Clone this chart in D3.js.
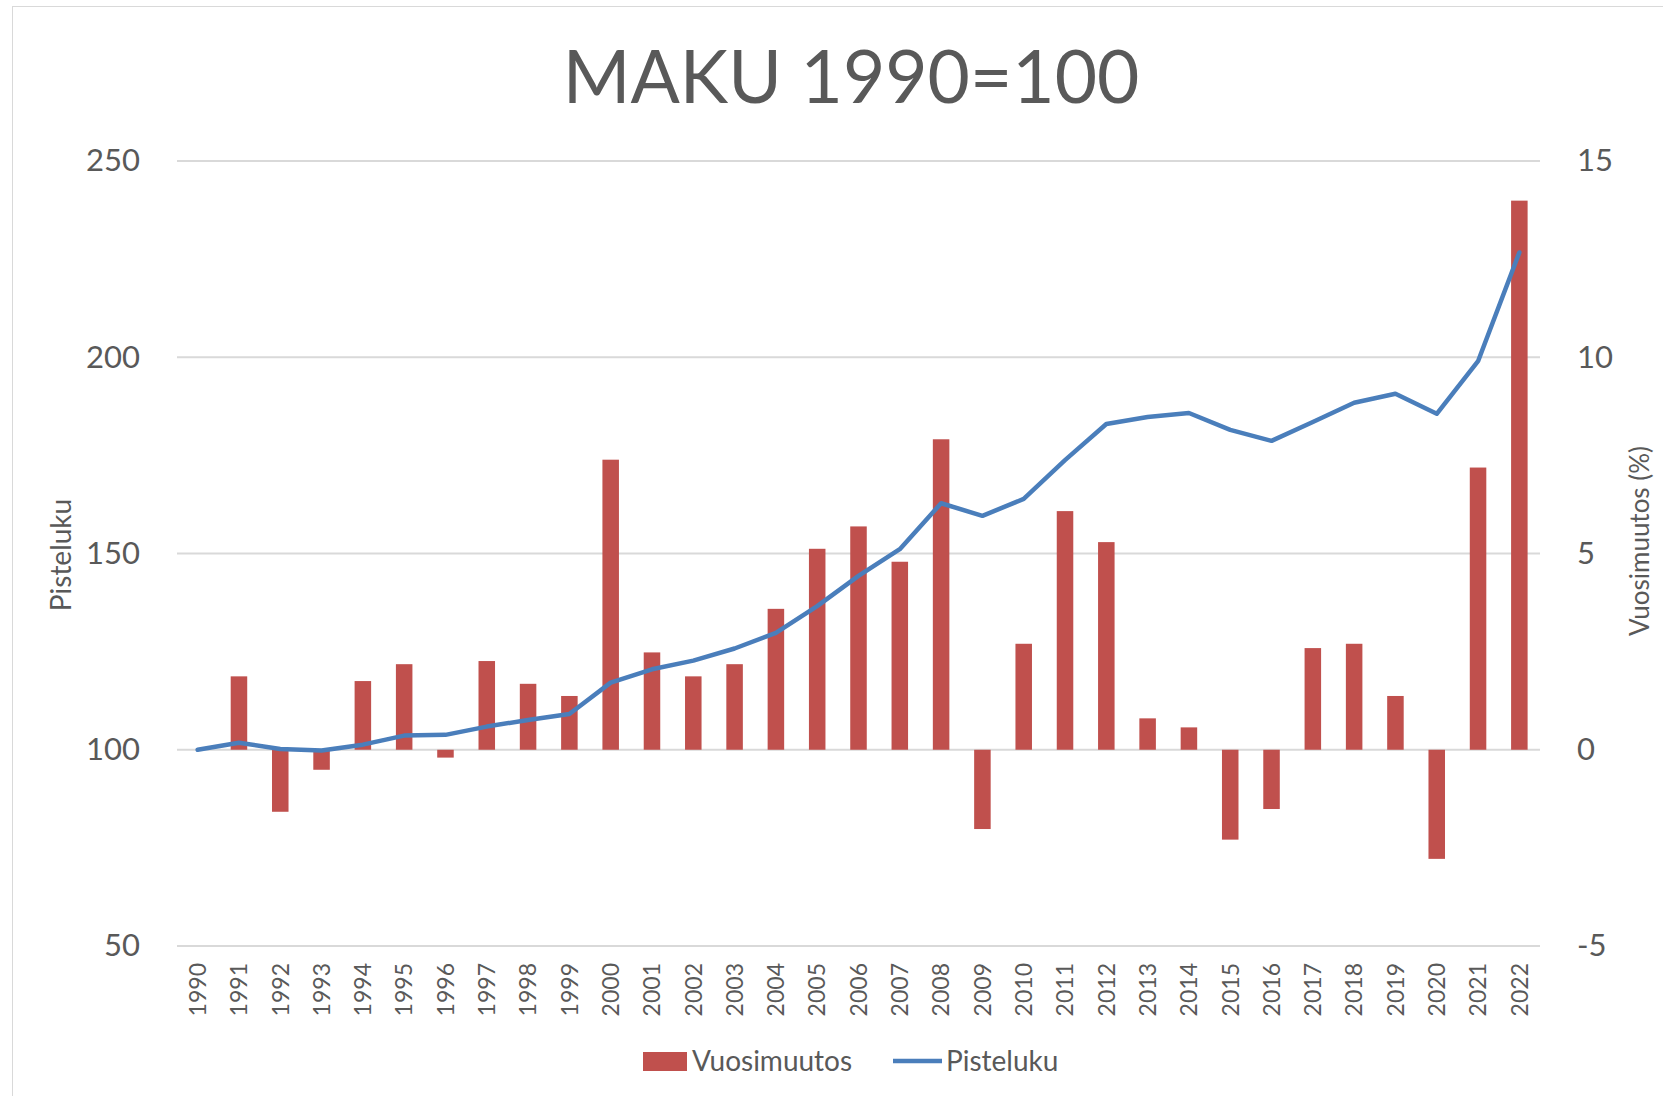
<!DOCTYPE html>
<html>
<head>
<meta charset="utf-8">
<script src="https://cdnjs.cloudflare.com/ajax/libs/d3/7.8.5/d3.min.js"></script>
<style>
    body { margin: 0; background: #fff; }
    text { font-family: Lato, "Open Sans", sans-serif; fill: #595959; }
</style>
</head>
<body>
<svg id="chart" width="1663" height="1096"></svg>
<script>
let years = [1990, 1991, 1992, 1993, 1994, 1995, 1996, 1997, 1998, 1999,
    2000, 2001, 2002, 2003, 2004, 2005, 2006, 2007, 2008, 2009,
    2010, 2011, 2012, 2013, 2014, 2015, 2016, 2017, 2018, 2019,
    2020, 2021, 2022];

// Vuosimuutos (%), right axis
let vuosimuutos = [0, 1.87, -1.58, -0.51, 1.75, 2.18, -0.2, 2.26, 1.68, 1.37,
    7.39, 2.48, 1.87, 2.18, 3.59, 5.12, 5.69, 4.79, 7.91, -2.02,
    2.70, 6.08, 5.29, 0.80, 0.57, -2.29, -1.51, 2.59, 2.70, 1.37,
    -2.78, 7.19, 13.99];

// Pisteluku (1990=100), left axis
let pisteluku = [100, 101.8, 100.2, 99.8, 101.3, 103.6, 103.8, 105.9, 107.6, 109.1,
    117.1, 120.5, 122.7, 125.8, 129.8, 136.6, 144.3, 151.1, 162.8, 159.6,
    163.9, 173.8, 183.0, 184.8, 185.8, 181.5, 178.7, 183.5, 188.4, 190.7,
    185.6, 199.0, 226.7];

let leftTicks = [50, 100, 150, 200, 250];
let rightTicks = [-5, 0, 5, 10, 15];

let svg = d3.select("#chart");
let plotLeft = 177, plotRight = 1540, plotTop = 161, plotBottom = 946;

// chart frame
svg.append("rect")
    .attr("x", 12.5).attr("y", 6.5)
    .attr("width", 1700).attr("height", 1200)
    .attr("fill", "#fff")
    .attr("stroke", "#d9d9d9");

let x = d3.scaleBand()
    .domain(years)
    .range([plotLeft, plotRight])
    .paddingInner(0.6)
    .paddingOuter(0.3);

let yLeft = d3.scaleLinear().domain([50, 250]).range([plotBottom, plotTop]);
let yRight = d3.scaleLinear().domain([-5, 15]).range([plotBottom, plotTop]);

// gridlines
svg.append("g")
    .selectAll("line")
    .data(leftTicks).enter()
    .append("line")
    .attr("x1", plotLeft).attr("x2", plotRight)
    .attr("y1", d => yLeft(d)).attr("y2", d => yLeft(d))
    .attr("stroke", "#d9d9d9")
    .attr("stroke-width", 2);

// left axis
let axL = svg.append("g")
    .attr("transform", "translate(" + (plotLeft - 37) + ",0)")
    .call(d3.axisLeft(yLeft).tickValues(leftTicks).tickSize(0).tickPadding(0));
axL.select(".domain").remove();
axL.selectAll("text").attr("font-size", 31).attr("fill", "#595959");

// right axis (plain hyphen for negatives, like Excel)
let axR = svg.append("g")
    .attr("transform", "translate(" + (plotRight + 37) + ",0)")
    .call(d3.axisRight(yRight).tickValues(rightTicks).tickSize(0).tickPadding(0)
        .tickFormat(d => String(d)));
axR.select(".domain").remove();
axR.selectAll("text").attr("font-size", 31).attr("fill", "#595959");

// x axis labels
let axX = svg.append("g")
    .attr("transform", "translate(0," + plotBottom + ")")
    .call(d3.axisBottom(x).tickSize(0).tickPadding(0));
axX.select(".domain").remove();
axX.selectAll("text")
    .attr("font-size", 23)
    .attr("fill", "#595959")
    .attr("transform", "rotate(-90)")
    .attr("text-anchor", "end")
    .attr("x", -17)
    .attr("y", 0)
    .attr("dy", "0.36em");

// bars
svg.append("g")
    .selectAll("rect")
    .data(years).enter()
    .append("rect")
    .attr("x", d => x(d))
    .attr("width", x.bandwidth())
    .attr("y", (d, i) => yRight(Math.max(0, vuosimuutos[i])))
    .attr("height", (d, i) => Math.abs(yRight(vuosimuutos[i]) - yRight(0)))
    .attr("fill", "#c0504d");

// line
let line = d3.line()
    .x((d, i) => x(years[i]) + x.bandwidth() / 2)
    .y(d => yLeft(d));

svg.append("path")
    .datum(pisteluku)
    .attr("d", line)
    .attr("fill", "none")
    .attr("stroke", "#4a7ebb")
    .attr("stroke-width", 4.5)
    .attr("stroke-linejoin", "round")
    .attr("stroke-linecap", "round");

// title
svg.append("text")
    .attr("x", 851).attr("y", 103)
    .attr("text-anchor", "middle")
    .attr("font-size", 73)
    .text("MAKU 1990=100");

// axis titles
svg.append("text")
    .attr("transform", "translate(61,555) rotate(-90)")
    .attr("text-anchor", "middle")
    .attr("dy", "0.35em")
    .attr("font-size", 28)
    .text("Pisteluku");

svg.append("text")
    .attr("transform", "translate(1640,541) rotate(-90)")
    .attr("text-anchor", "middle")
    .attr("dy", "0.35em")
    .attr("font-size", 26)
    .text("Vuosimuutos (%)");

// legend
let legend = svg.append("g");
legend.append("rect")
    .attr("x", 643).attr("y", 1052)
    .attr("width", 44).attr("height", 19)
    .attr("fill", "#c0504d");
legend.append("text")
    .attr("x", 692).attr("y", 1071)
    .attr("font-size", 28)
    .text("Vuosimuutos");
legend.append("line")
    .attr("x1", 893).attr("x2", 942)
    .attr("y1", 1061).attr("y2", 1061)
    .attr("stroke", "#4a7ebb")
    .attr("stroke-width", 4.5);
legend.append("text")
    .attr("x", 946).attr("y", 1071)
    .attr("font-size", 28)
    .text("Pisteluku");
</script>
</body>
</html>
